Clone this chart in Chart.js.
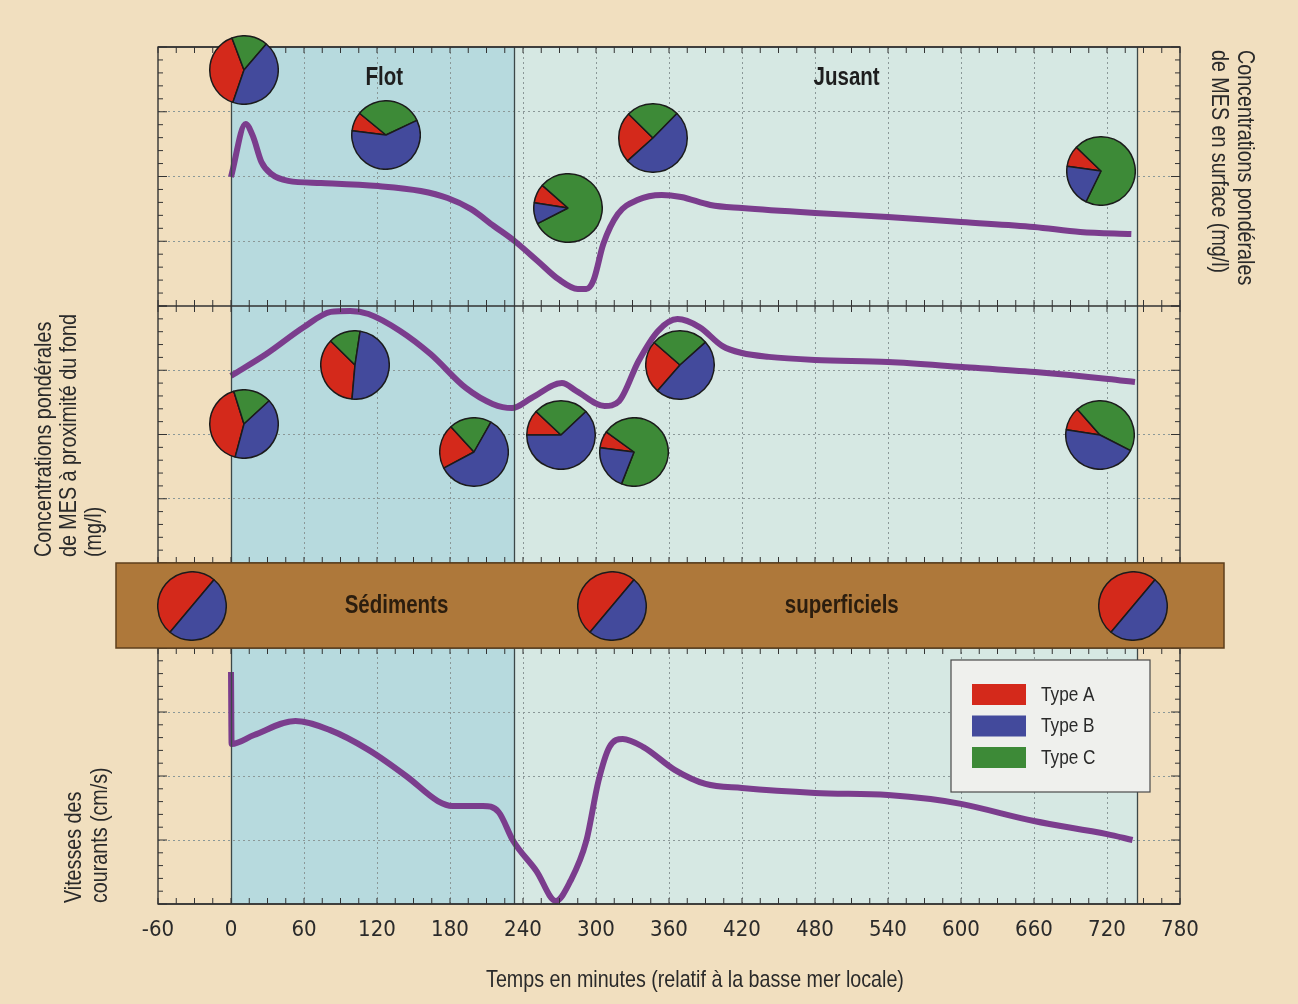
<!DOCTYPE html>
<html lang="fr">
<head>
<meta charset="utf-8">
<title>MES et courants au cours de la marée</title>
<script src="https://cdn.jsdelivr.net/npm/chart.js@4.4.1/dist/chart.umd.min.js"></script>
<style>
  html, body { margin: 0; padding: 0; background: #f1dfbf; }
  #wrap { position: relative; width: 1298px; height: 1004px; overflow: hidden; }
  #main { position: absolute; left: 0; top: 0; }
  .pie { position: absolute; }
</style>
</head>
<body>
<div id="wrap"><canvas id="main" width="1298" height="1004"></canvas></div>
<script>
// ---- data ----
const timeTicks = [-60, 0, 60, 120, 180, 240, 300, 360, 420, 480, 540, 600, 660, 720, 780];
const floodStart = 0, ebbStart = 233, ebbEnd = 745;
const phaseLabels = ['Flot', 'Jusant'];
const phaseLabelTimes = [126, 506];
const bandLabels = ['Sédiments', 'superficiels'];
const bandLabelTimes = [136, 502];

// surface concentration (top panel)
const surfaceTime = [0, 12, 18, 25, 33, 47, 74, 121, 156, 178, 197, 216, 233, 252, 269, 285, 292, 298, 306, 318, 334, 354, 370, 394, 420, 480, 540, 600, 660, 698, 740];
const surfaceConc = [49.8, 70.3, 65.6, 55.6, 51.0, 48.3, 47.5, 46.3, 44.4, 41.7, 37.5, 30.9, 25.1, 17.4, 10.4, 6.6, 6.6, 10.0, 23.9, 35.5, 40.9, 42.9, 42.1, 39.0, 37.8, 35.9, 34.4, 32.4, 30.5, 28.6, 27.8];

// near-bottom concentration (middle panel)
const bottomTime = [0, 29, 60, 82, 98, 113, 139, 164, 193, 215, 231, 247, 272, 284, 307, 319, 335, 351, 367, 385, 404, 420, 442, 480, 540, 601, 661, 721, 743];
const bottomConc = [72.8, 81.3, 91.8, 97.7, 98.1, 96.9, 90.3, 81.3, 68.1, 61.9, 60.3, 64.2, 70.0, 66.9, 61.1, 63.0, 78.6, 90.3, 94.9, 91.8, 84.4, 81.7, 80.2, 79.0, 78.2, 76.3, 74.3, 71.6, 70.4];

// current speed (bottom panel)
const currentTime = [0, 0.5, 19, 53, 81, 113, 145, 170, 182, 207, 220, 232, 251, 267, 279, 292, 302, 311, 322, 339, 365, 390, 420, 480, 540, 575, 600, 660, 720, 741];
const currentSpeed = [90.6, 62.5, 66.0, 71.5, 68.0, 60.2, 49.6, 40.2, 38.3, 38.3, 35.9, 24.6, 12.9, 1.2, 9.0, 24.6, 48.0, 61.3, 64.5, 61.3, 52.3, 46.9, 45.3, 43.4, 42.6, 41.0, 39.1, 32.4, 27.3, 25.0];

// particle type pies (percent of types A, B, C)
const pieTime   = [11, 127, 277, 347, 715, 11, 102, 200, 271, 331, 369, 714, -32, 313, 741];
const piePanel  = ['ySurf', 'ySurf', 'ySurf', 'ySurf', 'ySurf', 'yBottom', 'yBottom', 'yBottom', 'yBottom', 'yBottom', 'yBottom', 'yBottom', 'yBand', 'yBand', 'yBand'];
const pieLevel  = [91, 66, 38, 65, 52, 54, 77, 43, 50, 43, 77, 50, 50, 50, 50];
const pieA      = [39, 9, 9, 24, 10, 41, 36, 21, 12, 8, 25, 11, 50, 50, 50];
const pieB      = [44, 59, 10, 51, 20, 41, 49, 59, 62, 21, 48, 45, 50, 50, 50];
const pieC      = [17, 32, 81, 25, 70, 18, 15, 20, 26, 71, 27, 44, 0, 0, 0];
const pieRotation = [199, 277, 279, 228, 278, 195, 185, 242, 270, 277, 221, 279, 220, 220, 220];

const typeLabels = ['Type A', 'Type B', 'Type C'];

// ---- styles ----
const RED = '#d4291b', BLUE = '#434a9c', GREEN = '#3d8a37';
const PURPLE = '#7b3d8d';
const FLOT = '#b7dade', JUSANT = '#d6e8e3';
const FRAME = '#333333', GRID = '#8b9898';
const BAND = '#ae783a', BAND_EDGE = '#5e3f1c';
const TEXT = '#2a2a2a';
const SANS = "'Liberation Sans', Arial, sans-serif";
const PIE_SIZE = 70;

function pts(xs, ys) {
  return xs.map((x, i) => ({ x: x, y: ys[i] }));
}

function panelAxis(weight, gridOn) {
  return {
    type: 'linear',
    position: 'left',
    stack: 'panels',
    stackWeight: weight,
    min: 0,
    max: 100,
    ticks: { display: false, stepSize: 25 },
    grid: {
      drawTicks: false,
      lineWidth: 1,
      color: (c) => (gridOn && c.tick && c.tick.value > 0 && c.tick.value < 100) ? GRID : 'rgba(0,0,0,0)'
    },
    border: { display: false, dash: [2, 3] },
    afterFit: (s) => { s.width = 0; }
  };
}

// narrow (condensed) text: Liberation Sans squeezed horizontally
function narrowText(ctx, text, x, y, size, opts) {
  opts = opts || {};
  ctx.save();
  ctx.translate(x, y);
  if (opts.angle) ctx.rotate(opts.angle);
  ctx.scale(0.82, 1);
  ctx.font = (opts.bold ? 'bold ' : '') + size + 'px ' + SANS;
  ctx.fillStyle = opts.color || TEXT;
  ctx.textAlign = opts.align || 'left';
  ctx.textBaseline = opts.baseline || 'middle';
  ctx.fillText(text, 0, 0);
  ctx.restore();
}

const decor = {
  id: 'decor',
  beforeDraw(chart) {
    const { ctx, chartArea: a, scales: { x } } = chart;
    ctx.save();
    ctx.fillStyle = FLOT;
    ctx.fillRect(x.getPixelForValue(floodStart), a.top, x.getPixelForValue(ebbStart) - x.getPixelForValue(floodStart), a.bottom - a.top);
    ctx.fillStyle = JUSANT;
    ctx.fillRect(x.getPixelForValue(ebbStart), a.top, x.getPixelForValue(ebbEnd) - x.getPixelForValue(ebbStart), a.bottom - a.top);
    ctx.restore();
  },
  afterDatasetsDraw(chart) {
    const { ctx, chartArea: a, scales } = chart;
    const x = scales.x;
    const panels = ['ySurf', 'yBottom', 'yCurrent'];
    ctx.save();

    // phase boundaries
    ctx.strokeStyle = '#3c4848';
    ctx.lineWidth = 1.3;
    ctx.beginPath();
    [floodStart, ebbStart, ebbEnd].forEach(t => {
      const px = Math.round(x.getPixelForValue(t)) + 0.5;
      ctx.moveTo(px, a.top);
      ctx.lineTo(px, a.bottom);
    });
    ctx.stroke();

    // frame + panel borders
    ctx.strokeStyle = FRAME;
    ctx.lineWidth = 1.4;
    ctx.strokeRect(a.left, a.top, a.right - a.left, a.bottom - a.top);
    ctx.beginPath();
    panels.forEach(id => {
      const s = scales[id];
      ctx.moveTo(a.left, s.top); ctx.lineTo(a.right, s.top);
      ctx.moveTo(a.left, s.bottom); ctx.lineTo(a.right, s.bottom);
    });
    ctx.stroke();

    // tick marks pointing inwards
    ctx.lineWidth = 1;
    ctx.beginPath();
    for (let t = timeTicks[0]; t <= timeTicks[timeTicks.length - 1]; t += 15) {
      const px = x.getPixelForValue(t);
      panels.forEach(id => {
        const s = scales[id];
        ctx.moveTo(px, s.top); ctx.lineTo(px, s.top + 6);
        ctx.moveTo(px, s.bottom); ctx.lineTo(px, s.bottom - 6);
      });
    }
    panels.forEach(id => {
      const s = scales[id];
      for (let v = 0; v <= 100; v += 5) {
        const py = s.getPixelForValue(v);
        const len = v % 25 === 0 ? 9 : 5;
        ctx.moveTo(a.left, py); ctx.lineTo(a.left + len, py);
        ctx.moveTo(a.right, py); ctx.lineTo(a.right - len, py);
      }
    });
    ctx.stroke();

    // sediment band
    const b = scales.yBand;
    ctx.fillStyle = BAND;
    ctx.fillRect(a.left - 42, b.top, (a.right - a.left) + 86, b.bottom - b.top);
    ctx.strokeStyle = BAND_EDGE;
    ctx.lineWidth = 1.5;
    ctx.strokeRect(a.left - 42, b.top, (a.right - a.left) + 86, b.bottom - b.top);
    bandLabels.forEach((txt, i) => {
      narrowText(ctx, txt, x.getPixelForValue(bandLabelTimes[i]), b.getPixelForValue(50) + 1, 25,
        { bold: true, align: 'center', color: '#2b1d0e' });
    });

    // phase labels
    phaseLabels.forEach((txt, i) => {
      narrowText(ctx, txt, x.getPixelForValue(phaseLabelTimes[i]), scales.ySurf.getPixelForValue(88), 25,
        { bold: true, align: 'center', color: '#1e1e1e' });
    });

    // legend box
    const cur = scales.yCurrent;
    const lx = a.right - 229, ly = cur.top + 12;
    ctx.fillStyle = '#eff0ed';
    ctx.fillRect(lx, ly, 199, 132);
    ctx.strokeStyle = '#4a4a4a';
    ctx.lineWidth = 1.2;
    ctx.strokeRect(lx, ly, 199, 132);
    [RED, BLUE, GREEN].forEach((col, i) => {
      const sy = ly + 24 + i * 31.5;
      ctx.fillStyle = col;
      ctx.fillRect(lx + 21, sy, 54, 21);
      narrowText(ctx, typeLabels[i], lx + 90, sy + 11, 21);
    });

    // axis titles
    const mid = scales.yBottom;
    const up = -Math.PI / 2, down = Math.PI / 2;
    narrowText(ctx, 'Concentrations pondérales', a.right + 65, a.top + 3, 24, { angle: down });
    narrowText(ctx, 'de MES en surface (mg/l)', a.right + 39, a.top + 3, 24, { angle: down });
    narrowText(ctx, 'Concentrations pondérales', 44, mid.bottom - 6, 24, { angle: up });
    narrowText(ctx, 'de MES à proximité du fond', 69, mid.bottom - 6, 24, { angle: up });
    narrowText(ctx, '(mg/l)', 94, mid.bottom - 6, 24, { angle: up });
    narrowText(ctx, 'Vitesses des', 74, cur.bottom - 1, 24, { angle: up });
    narrowText(ctx, 'courants (cm/s)', 100, cur.bottom - 1, 24, { angle: up });
    narrowText(ctx, 'Temps en minutes (relatif à la basse mer locale)', (a.left + a.right) / 2 + 26, a.bottom + 83, 24,
      { align: 'center', baseline: 'alphabetic' });
    ctx.restore();
  }
};

const lineStyle = {
  borderColor: PURPLE,
  borderWidth: 6,
  pointRadius: 0,
  fill: false,
  cubicInterpolationMode: 'monotone',
  borderJoinStyle: 'round'
};

const chart = new Chart(document.getElementById('main'), {
  type: 'line',
  data: {
    datasets: [
      Object.assign({ label: 'Surface', data: pts(surfaceTime, surfaceConc), yAxisID: 'ySurf' }, lineStyle),
      Object.assign({ label: 'Fond', data: pts(bottomTime, bottomConc), yAxisID: 'yBottom' }, lineStyle),
      Object.assign({ label: 'Courant', data: pts(currentTime, currentSpeed), yAxisID: 'yCurrent' }, lineStyle)
    ]
  },
  options: {
    responsive: false,
    animation: false,
    events: [],
    layout: { padding: { left: 158, right: 118, top: 47, bottom: 0 } },
    plugins: { legend: { display: false }, tooltip: { enabled: false } },
    scales: {
      x: {
        type: 'linear',
        min: timeTicks[0],
        max: timeTicks[timeTicks.length - 1],
        afterBuildTicks: (s) => { s.ticks = timeTicks.map(v => ({ value: v })); },
        ticks: {
          color: TEXT,
          font: { family: "'DejaVu Sans Condensed', 'Liberation Sans', sans-serif", size: 22 },
          padding: 13,
          maxRotation: 0,
          autoSkip: false
        },
        grid: {
          drawTicks: false,
          lineWidth: 1,
          color: (c) => (c.tick && c.tick.value >= floodStart && c.tick.value < ebbEnd && c.tick.value !== 0) ? GRID : 'rgba(0,0,0,0)'
        },
        border: { display: false, dash: [2, 3] },
        afterFit: (s) => { s.height = 100; }
      },
      // stacked panels: listed bottom first, laid out top to bottom in reverse
      yCurrent: panelAxis(256, true),
      yBand: panelAxis(85, false),
      yBottom: panelAxis(257, true),
      ySurf: panelAxis(259, true)
    }
  },
  plugins: [decor]
});

// pies placed at their (time, level) on the main chart's scales
const wrap = document.getElementById('wrap');
pieTime.forEach((t, i) => {
  const cx = chart.scales.x.getPixelForValue(t);
  const cy = chart.scales[piePanel[i]].getPixelForValue(pieLevel[i]);
  const cv = document.createElement('canvas');
  cv.width = PIE_SIZE;
  cv.height = PIE_SIZE;
  cv.className = 'pie';
  cv.style.left = (cx - PIE_SIZE / 2) + 'px';
  cv.style.top = (cy - PIE_SIZE / 2) + 'px';
  wrap.appendChild(cv);
  new Chart(cv, {
    type: 'pie',
    data: {
      labels: ['Type A', 'Type C', 'Type B'],
      datasets: [{
        data: [pieA[i], pieC[i], pieB[i]],
        backgroundColor: [RED, GREEN, BLUE],
        borderColor: '#1b1b1b',
        borderWidth: 1.5
      }]
    },
    options: {
      responsive: false,
      animation: false,
      events: [],
      rotation: pieRotation[i],
      layout: { padding: 0 },
      plugins: { legend: { display: false }, tooltip: { enabled: false } }
    }
  });
});
</script>
</body>
</html>
